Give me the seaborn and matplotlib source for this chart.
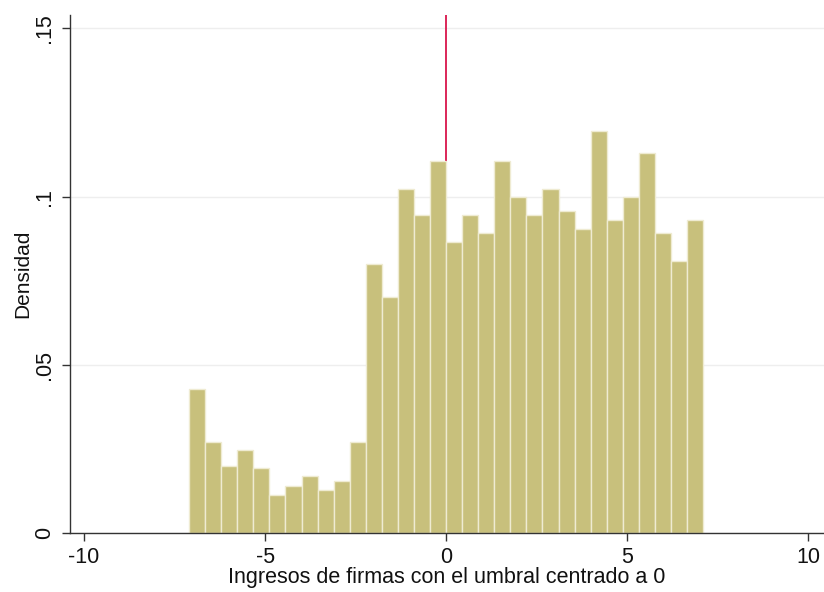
import numpy as np
import pandas as pd
import matplotlib
matplotlib.use("Agg")
import matplotlib.pyplot as plt
import seaborn as sns

# Histogram densities (32 bins from -7.1 to 7.1)
heights = [0.0429, 0.0272, 0.0200, 0.0247, 0.0193, 0.0113, 0.0141, 0.0168,
           0.0128, 0.0155, 0.0272, 0.0800, 0.0703, 0.1024, 0.0944, 0.1105,
           0.0864, 0.0944, 0.0892, 0.1105, 0.0998, 0.0944, 0.1024, 0.0956,
           0.0905, 0.1196, 0.0930, 0.0998, 0.1130, 0.0892, 0.0810, 0.0930]
bin_lo, bin_hi = -7.1, 7.1
x_ticks = [-10, -5, 0, 5, 10]
y_ticks = [0, 0.05, 0.10, 0.15]
y_ticklabels = ["0", ".05", ".1", ".15"]
threshold = 0

n = len(heights)
edges = np.linspace(bin_lo, bin_hi, n + 1)
centers = (edges[:-1] + edges[1:]) / 2
df = pd.DataFrame({"x": centers, "w": heights})

sns.set_theme(style="white")
plt.rcParams["font.family"] = ["Liberation Sans", "DejaVu Sans"]

fig = plt.figure(figsize=(8.24, 5.92), dpi=100)
ax = fig.add_axes([70 / 824, 59 / 592, 754 / 824, 518 / 592])

ax.axvline(threshold, color="#D9154B", lw=1.3, zorder=1)
sns.histplot(data=df, x="x", weights="w", bins=n, binrange=(bin_lo, bin_hi),
             stat="count", color="#C8C07C", alpha=1.0, edgecolor="#EFEBD2",
             linewidth=1.0, ax=ax, zorder=2)

ax.set_xlim(-10.39, 10.44)
ax.set_ylim(0, 0.154)
ax.set_xticks(x_ticks)
ax.set_xticklabels([str(t) for t in x_ticks])
ax.set_yticks(y_ticks)
ax.set_yticklabels(y_ticklabels, rotation=90, va="center")
ax.yaxis.grid(True, color="#EEEEEE", lw=1.0)
ax.set_axisbelow(True)
for g in ax.get_ygridlines():
    g.set_zorder(0)

for s in ["top", "right"]:
    ax.spines[s].set_visible(False)
for s in ["left", "bottom"]:
    ax.spines[s].set_color("#333333")
    ax.spines[s].set_linewidth(1.0)

ax.tick_params(axis="both", which="both", length=6, width=1, color="#333333",
               labelsize=15.5, labelcolor="#111111", direction="out",
               left=True, bottom=True, pad=4)
ax.tick_params(axis="y", pad=5)
ax.set_xlabel("Ingresos de firmas con el umbral centrado a 0", fontsize=15.5,
              color="#111111", labelpad=-1)
ax.set_ylabel("Densidad", fontsize=15, color="#111111", labelpad=1)

fig.savefig("out.png", dpi=100)
